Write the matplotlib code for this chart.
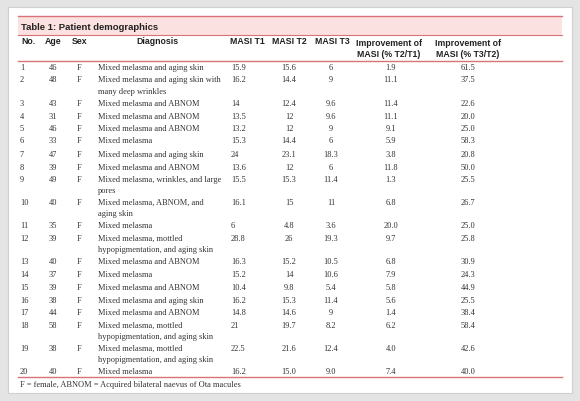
import matplotlib
matplotlib.use("Agg")
import matplotlib.pyplot as plt
from matplotlib.patches import Rectangle

no = list(range(1, 21))
age = [46,48,43,31,46,33,47,39,49,40,35,39,40,37,39,38,44,58,38,40]
sex = ["F"]*20
diagnosis = [
 ["Mixed melasma and aging skin"],
 ["Mixed melasma and aging skin with", "many deep wrinkles"],
 ["Mixed melasma and ABNOM"],
 ["Mixed melasma and ABNOM"],
 ["Mixed melasma and ABNOM"],
 ["Mixed melasma"],
 ["Mixed melasma and aging skin"],
 ["Mixed melasma and ABNOM"],
 ["Mixed melasma, wrinkles, and large", "pores"],
 ["Mixed melasma, ABNOM, and", "aging skin"],
 ["Mixed melasma"],
 ["Mixed melasma, mottled", "hypopigmentation, and aging skin"],
 ["Mixed melasma and ABNOM"],
 ["Mixed melasma"],
 ["Mixed melasma and ABNOM"],
 ["Mixed melasma and aging skin"],
 ["Mixed melasma and ABNOM"],
 ["Mixed melasma, mottled", "hypopigmentation, and aging skin"],
 ["Mixed melasma, mottled", "hypopigmentation, and aging skin"],
 ["Mixed melasma"],
]
masi_t1 = ["15.9","16.2","14","13.5","13.2","15.3","24","13.6","15.5","16.1","6","28.8","16.3","15.2","10.4","16.2","14.8","21","22.5","16.2"]
masi_t2 = ["15.6","14.4","12.4","12","12","14.4","23.1","12","15.3","15","4.8","26","15.2","14","9.8","15.3","14.6","19.7","21.6","15.0"]
masi_t3 = ["6","9","9.6","9.6","9","6","18.3","6","11.4","11","3.6","19.3","10.5","10.6","5.4","11.4","9","8.2","12.4","9.0"]
imp_t2t1 = ["1.9","11.1","11.4","11.1","9.1","5.9","3.8","11.8","1.3","6.8","20.0","9.7","6.8","7.9","5.8","5.6","1.4","6.2","4.0","7.4"]
imp_t3t2 = ["61.5","37.5","22.6","20.0","25.0","58.3","20.8","50.0","25.5","26.7","25.0","25.8","30.9","24.3","44.9","25.5","38.4","58.4","42.6","40.0"]
row_y = [68,80,104,117,129,141,155,168,180,203,226,239,262,275,288,301,313,326,349,372]

W, H = 580, 402
fig = plt.figure(figsize=(W/100, H/100), dpi=100)
fig.patch.set_facecolor("#e4e4e4")
ax = fig.add_axes([0, 0, 1, 1])
ax.set_xlim(0, W); ax.set_ylim(H, 0); ax.axis("off")

ax.add_patch(Rectangle((8, 8), 564, 386, facecolor="white", edgecolor="#d0d0d0", lw=0.8))
ax.add_patch(Rectangle((18, 17), 544, 19, facecolor="#fbe1df", edgecolor="none"))
red = "#d9737a"
ax.plot([18, 562], [17, 17], color=red, lw=1)
ax.plot([18, 562], [36, 36], color=red, lw=0.8)
ax.plot([18, 562], [62, 62], color=red, lw=1)
ax.plot([18, 562], [378, 378], color=red, lw=1)

hf = dict(family="Liberation Sans", weight="bold", fontsize=6.3, color="#222222", va="center")
ax.text(21, 27, "Table 1: Patient demographics", family="Liberation Sans", weight="bold",
        fontsize=6.8, color="#222222", va="center")
ax.text(21, 42, "No.", ha="left", **hf)
ax.text(53, 42, "Age", ha="center", **hf)
ax.text(80, 42, "Sex", ha="center", **hf)
ax.text(157, 42, "Diagnosis", ha="center", **hf)
ax.text(247, 42, "MASI T1", ha="center", **hf)
ax.text(289, 42, "MASI T2", ha="center", **hf)
ax.text(332, 42, "MASI T3", ha="center", **hf)
ax.text(389, 49, "Improvement of\nMASI (% T2/T1)", ha="center", linespacing=1.25, **hf)
ax.text(468, 49, "Improvement of\nMASI (% T3/T2)", ha="center", linespacing=1.25, **hf)

bf = dict(family="Liberation Serif", fontsize=6.0, color="#333333", va="center")
for i in range(20):
    y = row_y[i]
    ax.text(20, y, str(no[i]), ha="left", **bf)
    ax.text(53, y, str(age[i]), ha="center", **bf)
    ax.text(79, y, sex[i], ha="center", **bf)
    for k, line in enumerate(diagnosis[i]):
        ax.text(98, y + 11.5*k, line, ha="left", **bf)
    ax.text(231, y, masi_t1[i], ha="left", **bf)
    ax.text(289, y, masi_t2[i], ha="center", **bf)
    ax.text(331, y, masi_t3[i], ha="center", **bf)
    ax.text(391, y, imp_t2t1[i], ha="center", **bf)
    ax.text(468, y, imp_t3t2[i], ha="center", **bf)

ax.text(20, 385, "F = female, ABNOM = Acquired bilateral naevus of Ota macules", ha="left", **bf)
fig.savefig("out.png", dpi=100, facecolor=fig.get_facecolor())
